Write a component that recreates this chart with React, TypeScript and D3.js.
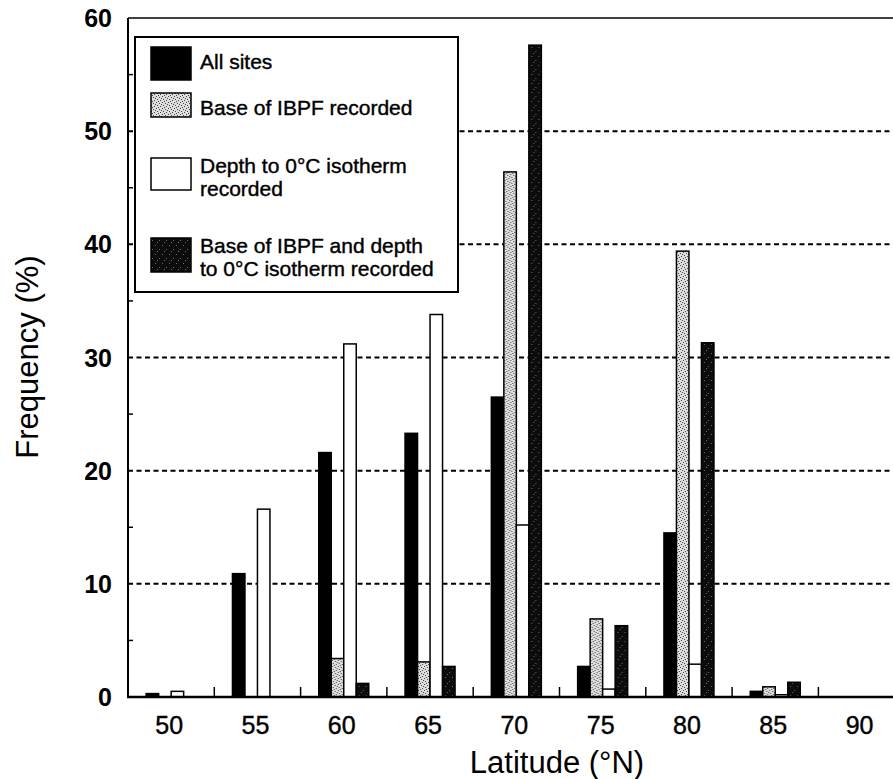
import React, { useEffect, useRef } from 'react';
import * as d3 from 'd3';

const latitudes = [50, 55, 60, 65, 70, 75, 80, 85, 90];
const allSites = [0.3, 10.9, 21.6, 23.3, 26.5, 2.7, 14.5, 0.5, 0];
const baseIBPF = [0, 0, 3.4, 3.1, 46.4, 6.9, 39.4, 0.9, 0];
const depth0C = [0.5, 16.6, 31.2, 33.8, 15.2, 0.7, 2.9, 0.2, 0];
const bothRecorded = [0, 0, 1.2, 2.7, 57.6, 6.3, 31.3, 1.3, 0];
const yTicks = [0, 10, 20, 30, 40, 50, 60];
const yMinorTicks = [5, 15, 25, 35, 45, 55];
const xBoundaries = [52.5, 57.5, 62.5, 67.5, 72.5, 77.5, 82.5, 87.5];

const seriesKeys = ['all', 'base', 'depth', 'both'];
const seriesValues = { all: allSites, base: baseIBPF, depth: depth0C, both: bothRecorded };
const seriesFill = { all: '#000', base: 'url(#stipLight)', depth: '#fff', both: 'url(#stipDark)' };

const FONT = '"Liberation Sans", Arial, sans-serif';

function App() {
  const ref = useRef(null);

  useEffect(() => {
    const svg = d3.select(ref.current);
    svg.selectAll('*').remove();

    const width = 893;
    const height = 779;
    const left = 128;
    const top = 18;
    const bottom = 697;

    const x = d3.scaleLinear().domain([47.5, 92.5]).range([left, left + 45 * 17.26]);
    const y = d3.scaleLinear().domain([0, 60]).range([bottom, top]);
    const inner = d3.scaleBand().domain(seriesKeys).range([-25, 25]).padding(0);

    // patterns for the stippled series
    const defs = svg.append('defs');
    const pl = defs.append('pattern').attr('id', 'stipLight').attr('patternUnits', 'userSpaceOnUse')
      .attr('width', 6).attr('height', 6);
    pl.append('rect').attr('width', 6).attr('height', 6).attr('fill', '#dedede');
    [[0, 0], [3, 1], [1, 3], [4, 4], [5, 2], [2, 5]].forEach(([a, b]) => {
      pl.append('rect').attr('x', a).attr('y', b).attr('width', 1).attr('height', 1).attr('fill', '#444');
    });
    const pd = defs.append('pattern').attr('id', 'stipDark').attr('patternUnits', 'userSpaceOnUse')
      .attr('width', 7).attr('height', 9);
    pd.append('rect').attr('width', 7).attr('height', 9).attr('fill', '#0c0c0c');
    [[1, 2], [5, 6], [3, 8]].forEach(([a, b]) => {
      pd.append('rect').attr('x', a).attr('y', b).attr('width', 1).attr('height', 1).attr('fill', '#6a6a6a');
    });

    svg.append('rect').attr('width', width).attr('height', height).attr('fill', '#fff');

    // dashed gridlines
    svg.append('g').selectAll('line')
      .data(yTicks.filter(d => d > 0 && d < 60))
      .join('line')
      .attr('x1', left).attr('x2', width)
      .attr('y1', d => y(d)).attr('y2', d => y(d))
      .attr('stroke', '#000').attr('stroke-width', 2)
      .attr('stroke-dasharray', '5,3.5');

    // bars
    const groups = svg.append('g').selectAll('g')
      .data(latitudes)
      .join('g')
      .attr('transform', d => `translate(${x(d)},0)`);

    groups.selectAll('rect')
      .data((_, i) => seriesKeys.map(k => ({ key: k, value: seriesValues[k][i] })))
      .join('rect')
      .attr('x', d => inner(d.key))
      .attr('width', inner.bandwidth())
      .attr('y', d => y(d.value))
      .attr('height', d => y(0) - y(d.value))
      .attr('fill', d => seriesFill[d.key])
      .attr('stroke', d => (d.value > 0 ? '#000' : 'none'))
      .attr('stroke-width', 1.5);

    // frame
    svg.append('line').attr('x1', left).attr('x2', left).attr('y1', top).attr('y2', bottom)
      .attr('stroke', '#000').attr('stroke-width', 2);
    svg.append('line').attr('x1', left).attr('x2', width).attr('y1', top).attr('y2', top)
      .attr('stroke', '#000').attr('stroke-width', 1.5);
    svg.append('line').attr('x1', left - 1).attr('x2', width).attr('y1', bottom).attr('y2', bottom)
      .attr('stroke', '#000').attr('stroke-width', 2.5);

    // y minor ticks
    svg.append('g').selectAll('line')
      .data(yMinorTicks)
      .join('line')
      .attr('x1', left).attr('x2', left + 5)
      .attr('y1', d => y(d)).attr('y2', d => y(d))
      .attr('stroke', '#000').attr('stroke-width', 1.5);

    // x ticks between latitude groups
    svg.append('g').selectAll('line')
      .data(xBoundaries)
      .join('line')
      .attr('x1', d => x(d)).attr('x2', d => x(d))
      .attr('y1', bottom).attr('y2', bottom - 10)
      .attr('stroke', '#000').attr('stroke-width', 1.5);

    // y labels
    svg.append('g').selectAll('text')
      .data(yTicks)
      .join('text')
      .attr('x', 112)
      .attr('y', d => y(d))
      .attr('dy', '0.36em')
      .attr('text-anchor', 'end')
      .style('font-family', FONT)
      .style('font-size', '25px')
      .style('font-weight', 'bold')
      .text(d => d);

    // x labels
    svg.append('g').selectAll('text')
      .data(latitudes)
      .join('text')
      .attr('x', d => x(d) - 2)
      .attr('y', 734)
      .attr('text-anchor', 'middle')
      .style('font-family', FONT)
      .style('font-size', '25px')
      .attr('stroke', '#000').attr('stroke-width', 0.4)
      .text(d => d);

    svg.append('text')
      .attr('x', 557).attr('y', 773)
      .attr('text-anchor', 'middle')
      .style('font-family', FONT)
      .style('font-size', '31px')
      .text('Latitude (°N)');

    svg.append('text')
      .attr('transform', 'translate(38,357) rotate(-90)')
      .attr('text-anchor', 'middle')
      .style('font-family', FONT)
      .style('font-size', '31px')
      .text('Frequency (%)');

    // legend
    const legend = svg.append('g');
    legend.append('rect')
      .attr('x', 135).attr('y', 37).attr('width', 323).attr('height', 255)
      .attr('fill', '#fff').attr('stroke', '#000').attr('stroke-width', 2);

    const items = [
      { key: 'all', sy: 47, sh: 33, lines: ['All sites'], ty: 69 },
      { key: 'base', sy: 93, sh: 24, lines: ['Base of IBPF recorded'], ty: 115 },
      { key: 'depth', sy: 158, sh: 32, lines: ['Depth to 0°C isotherm', 'recorded'], ty: 173 },
      { key: 'both', sy: 238, sh: 34, lines: ['Base of IBPF and depth', 'to 0°C isotherm recorded'], ty: 253 },
    ];
    items.forEach(it => {
      legend.append('rect')
        .attr('x', 151).attr('y', it.sy).attr('width', 40).attr('height', it.sh)
        .attr('fill', seriesFill[it.key]).attr('stroke', '#000').attr('stroke-width', 1.5);
      it.lines.forEach((t, j) => {
        legend.append('text')
          .attr('x', 200).attr('y', it.ty + j * 23)
          .style('font-family', FONT)
          .style('font-size', '21px')
          .attr('stroke', '#000').attr('stroke-width', 0.4)
          .text(t);
      });
    });
  }, []);

  return <svg ref={ref} width={893} height={779} style={{ position: 'absolute', left: 0, top: 0 }} />;
}

export default App;
